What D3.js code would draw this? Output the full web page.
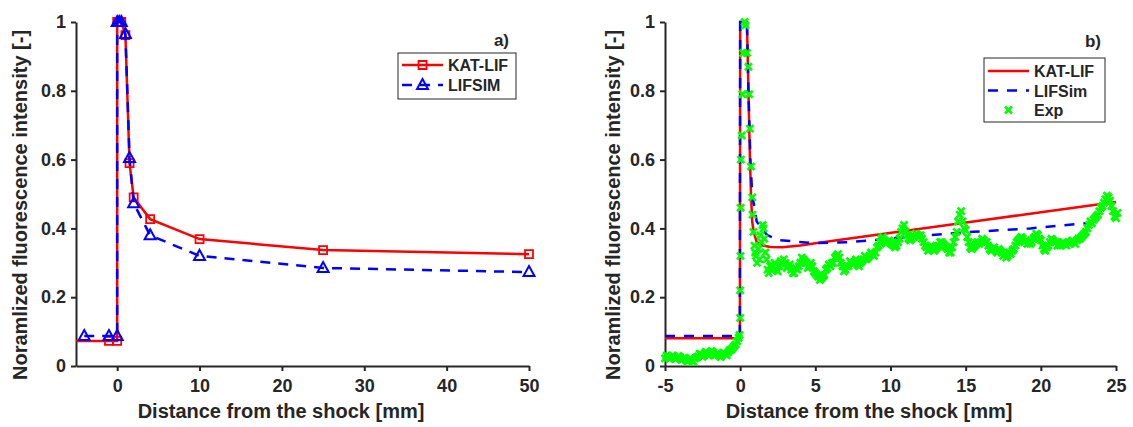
<!DOCTYPE html>
<html>
<head>
<meta charset="utf-8">
<script src="https://cdn.jsdelivr.net/npm/d3@7"></script>
<style>
  body { margin: 0; background: #fff; }
  text { font-family: "Liberation Sans", Arial, sans-serif; font-weight: bold; fill: #262626; }
</style>
</head>
<body>
<svg id="chart" width="1133" height="427"></svg>
<script>
// Two panels: a) model comparison, b) models vs. experiment

const Y_TICKS  = [0, 0.2, 0.4, 0.6, 0.8, 1];
const Y_LABELS = ['0', '0.2', '0.4', '0.6', '0.8', '1'];
const A_X_TICKS = [0, 10, 20, 30, 40, 50];
const B_X_TICKS = [-5, 0, 5, 10, 15, 20, 25];

// panel a)
const katA_x = [-6, -1, 0, 0, 0.5, 1, 1.5, 2, 4, 10, 25, 50];
const katA_y = [0.073, 0.073, 0.073, 1.0, 1.0, 0.962, 0.59, 0.49, 0.427, 0.369, 0.337, 0.325];
const simA_x = [-4, -1, 0, 0, 0.25, 0.5, 1, 1.5, 2, 4, 10, 25, 50];
const simA_y = [0.087, 0.087, 0.087, 1.0, 1.0, 1.0, 0.965, 0.605, 0.473, 0.38, 0.32, 0.285, 0.273];

// panel b)
const katB_x = [-5, -0.02, 0, 0.45, 0.55, 0.65, 0.72, 0.8, 0.9, 1.1, 1.5, 2, 2.8, 4, 5, 8, 12, 16, 20, 25];
const katB_y = [0.081, 0.081, 1.0, 1.0, 0.8, 0.6, 0.5, 0.42, 0.39, 0.36, 0.35, 0.346, 0.345, 0.35, 0.357, 0.375, 0.399, 0.423, 0.447, 0.477];
const simB_x = [-5, -0.02, 0, 0.45, 0.55, 0.68, 0.8, 1.1, 1.8, 2.6, 4.9, 7.3, 12.4, 15.5, 19.3, 23.5];
const simB_y = [0.087, 0.087, 1.0, 1.0, 0.8, 0.6, 0.5, 0.42, 0.38, 0.366, 0.357, 0.36, 0.38, 0.39, 0.40, 0.417];

const expB_x = [
  -5.0, -4.9, -4.8, -4.7, -4.6, -4.5, -4.4, -4.3, -4.2, -4.1, -4.0, -3.9, -3.8, -3.7, -3.6, -3.5, -3.4, -3.3, -3.2, -3.1,
  -3.0, -2.9, -2.8, -2.7, -2.6, -2.5, -2.4, -2.3, -2.2, -2.1, -2.0, -1.9, -1.8, -1.7, -1.6, -1.5, -1.4, -1.3, -1.2, -1.1,
  -1.0, -0.9, -0.8, -0.7, -0.6, -0.5, -0.4, -0.3, -0.2, -0.1,
  -0.05, 0.0, 0.0, 0.02, 0.03, 0.05, 0.1, 0.15, 0.2, 0.3, 0.35, 0.45, 0.55, 0.6, 0.65, 0.72, 0.8, 0.82, 0.88, 0.95,
  1.0, 1.05, 1.12, 1.2, 1.28, 1.35, 1.42, 1.5, 1.55, 1.6, 1.68, 1.75, 1.82, 1.9, 2.0,
  2.1, 2.2, 2.3, 2.4, 2.5, 2.6, 2.7, 2.8, 2.9, 3.0, 3.1, 3.2, 3.3, 3.4, 3.5, 3.6, 3.7, 3.8, 3.9, 4.0,
  4.1, 4.2, 4.3, 4.4, 4.5, 4.6, 4.7, 4.8, 4.9, 5.0, 5.1, 5.2, 5.3, 5.4, 5.5, 5.6, 5.7, 5.8, 5.9, 6.0,
  6.1, 6.2, 6.3, 6.4, 6.5, 6.6, 6.7, 6.8, 6.9, 7.0, 7.1, 7.2, 7.3, 7.4, 7.5, 7.6, 7.7, 7.8, 7.9, 8.0,
  8.1, 8.2, 8.3, 8.4, 8.5, 8.6, 8.7, 8.8, 8.9, 9.0, 9.1, 9.2, 9.3, 9.4, 9.5, 9.6, 9.7, 9.8, 9.9, 10.0,
  10.1, 10.2, 10.3, 10.4, 10.5, 10.6, 10.7, 10.8, 10.9, 11.0, 11.1, 11.2, 11.3, 11.4, 11.5, 11.6, 11.7, 11.8, 11.9, 12.0,
  12.1, 12.2, 12.3, 12.4, 12.5, 12.6, 12.7, 12.8, 12.9, 13.0, 13.1, 13.2, 13.3, 13.4, 13.5, 13.6, 13.7, 13.8, 13.9, 14.0,
  14.1, 14.2, 14.3, 14.4, 14.5, 14.6, 14.7, 14.8, 14.9, 15.0, 15.1, 15.2, 15.3, 15.4, 15.5, 15.6, 15.7, 15.8, 15.9, 16.0,
  16.1, 16.2, 16.3, 16.4, 16.5, 16.6, 16.7, 16.8, 16.9, 17.0, 17.1, 17.2, 17.3, 17.4, 17.5, 17.6, 17.7, 17.8, 17.9, 18.0,
  18.1, 18.2, 18.3, 18.4, 18.5, 18.6, 18.7, 18.8, 18.9, 19.0, 19.1, 19.2, 19.3, 19.4, 19.5, 19.6, 19.7, 19.8, 19.9, 20.0,
  20.1, 20.2, 20.3, 20.4, 20.5, 20.6, 20.7, 20.8, 20.9, 21.0, 21.1, 21.2, 21.3, 21.4, 21.5, 21.6, 21.7, 21.8, 21.9, 22.0,
  22.1, 22.2, 22.3, 22.4, 22.5, 22.6, 22.7, 22.8, 22.9, 23.0, 23.1, 23.2, 23.3, 23.4, 23.5, 23.6, 23.7, 23.8, 23.9, 24.0,
  24.1, 24.2, 24.3, 24.4, 24.5, 24.6, 24.7, 24.8, 24.9, 25.0, 25.1
];
const expB_y = [
  0.022, 0.030, 0.028, 0.021, 0.025, 0.031, 0.027, 0.020, 0.024, 0.029, 0.026, 0.018, 0.021, 0.024, 0.017, 0.013, 0.019, 0.022, 0.015, 0.012,
  0.022, 0.025, 0.028, 0.036, 0.034, 0.027, 0.031, 0.041, 0.038, 0.030, 0.036, 0.044, 0.040, 0.031, 0.033, 0.038, 0.030, 0.026, 0.032, 0.039,
  0.035, 0.031, 0.040, 0.046, 0.047, 0.052, 0.058, 0.063, 0.072, 0.082,
  0.09, 0.14, 0.22, 0.32, 0.46, 0.60, 0.67, 0.79, 0.91, 1.0, 0.99, 0.91, 0.87, 0.79, 0.69, 0.58, 0.49, 0.44, 0.39, 0.35,
  0.33, 0.32, 0.30, 0.34, 0.31, 0.38, 0.36, 0.41, 0.40, 0.37, 0.33, 0.31, 0.28, 0.27, 0.29,
  0.28, 0.29, 0.30, 0.28, 0.275, 0.29, 0.305, 0.30, 0.31, 0.30, 0.285, 0.29, 0.295, 0.28, 0.27, 0.27, 0.285, 0.28, 0.29, 0.30,
  0.315, 0.31, 0.305, 0.30, 0.285, 0.29, 0.30, 0.29, 0.275, 0.27, 0.265, 0.26, 0.25, 0.255, 0.26, 0.265, 0.28, 0.285, 0.295, 0.29,
  0.30, 0.30, 0.315, 0.32, 0.325, 0.315, 0.30, 0.29, 0.275, 0.28, 0.29, 0.29, 0.305, 0.30, 0.295, 0.30, 0.31, 0.295, 0.29, 0.30,
  0.305, 0.31, 0.32, 0.31, 0.315, 0.32, 0.33, 0.325, 0.32, 0.33, 0.345, 0.35, 0.36, 0.37, 0.375, 0.365, 0.355, 0.36, 0.365, 0.36,
  0.355, 0.35, 0.345, 0.35, 0.36, 0.37, 0.39, 0.40, 0.41, 0.39, 0.38, 0.37, 0.365, 0.37, 0.38, 0.375, 0.385, 0.38, 0.375, 0.38,
  0.37, 0.36, 0.35, 0.345, 0.335, 0.34, 0.35, 0.345, 0.335, 0.34, 0.345, 0.35, 0.36, 0.36, 0.355, 0.35, 0.345, 0.34, 0.33, 0.33,
  0.345, 0.36, 0.375, 0.39, 0.42, 0.44, 0.45, 0.42, 0.40, 0.395, 0.375, 0.36, 0.345, 0.34, 0.345, 0.35, 0.355, 0.36, 0.355, 0.36,
  0.37, 0.365, 0.36, 0.36, 0.35, 0.34, 0.335, 0.34, 0.345, 0.335, 0.33, 0.34, 0.335, 0.33, 0.32, 0.325, 0.315, 0.32, 0.33, 0.325,
  0.335, 0.34, 0.35, 0.36, 0.365, 0.37, 0.375, 0.37, 0.36, 0.365, 0.355, 0.36, 0.355, 0.36, 0.37, 0.375, 0.385, 0.38, 0.37, 0.365,
  0.35, 0.34, 0.335, 0.345, 0.35, 0.36, 0.37, 0.365, 0.36, 0.36, 0.35, 0.355, 0.35, 0.355, 0.36, 0.355, 0.35, 0.36, 0.355, 0.36,
  0.365, 0.36, 0.355, 0.365, 0.37, 0.37, 0.375, 0.38, 0.385, 0.39, 0.40, 0.41, 0.42, 0.415, 0.425, 0.43, 0.435, 0.44, 0.45, 0.46,
  0.465, 0.475, 0.485, 0.495, 0.49, 0.48, 0.465, 0.45, 0.435, 0.43, 0.445
];

const AXIS = '#262626';
const RED = '#ff0000', BLUE = '#0000ff', GREEN = '#00ff00';
const TOP = 22, BOTTOM = 366;

const svg = d3.select('#chart');

const SQUARE   = 'M-4,-4H4V4H-4Z';
const TRIANGLE = 'M0,-6L5.5,4H-5.5Z';
const CROSS    = 'M-3.5,-3.5L3.5,3.5M-3.5,3.5L3.5,-3.5';

const drawPanel = cfg => {
    const x = d3.scaleLinear().domain(cfg.xDomain).range(cfg.xRange);
    const y = d3.scaleLinear().domain([0, 1]).range([BOTTOM, TOP]);
    const g = svg.append('g');

    svg.append('clipPath').attr('id', cfg.id)
      .append('rect')
        .attr('x', cfg.xRange[0]).attr('y', 0)
        .attr('width', cfg.xRange[1] - cfg.xRange[0] + 6).attr('height', BOTTOM);

    // plain hyphen for negative ticks, as in the original
    const xAxis = d3.axisBottom(x).tickValues(cfg.xTicks).tickSize(5)
                    .tickSizeOuter(0).tickPadding(8).tickFormat(d => String(d));
    const yAxis = d3.axisLeft(y).tickValues(Y_TICKS).tickSize(5)
                    .tickSizeOuter(0).tickPadding(5).tickFormat((d, i) => Y_LABELS[i]);

    const gx = g.append('g').attr('transform', `translate(0,${BOTTOM})`).call(xAxis);
    const gy = g.append('g').attr('transform', `translate(${cfg.xRange[0]},0)`).call(yAxis);
    [gx, gy].forEach(a => {
        a.attr('font-family', null).attr('font-size', null);
        a.select('.domain').attr('stroke', AXIS).attr('stroke-width', 2);
        a.selectAll('.tick line').attr('stroke', AXIS).attr('stroke-width', 2);
        a.selectAll('.tick text').attr('fill', AXIS).style('font-size', '18px');
    });

    const line = d3.line().x(d => x(d[0])).y(d => y(d[1]));
    const plot = g.append('g');
    cfg.series.forEach(s => {
        const pts = d3.zip(s.x, s.y);
        if (s.line) {
            plot.append('path').datum(pts)
                .attr('clip-path', `url(#${cfg.id})`)
                .attr('d', line).attr('fill', 'none')
                .attr('stroke', s.color).attr('stroke-width', 2.5)
                .attr('stroke-dasharray', s.dash || null);
        }
        if (s.marker) {
            plot.selectAll(null).data(pts.filter(d => d[0] >= cfg.xDomain[0]))
              .enter().append('path')
                .attr('transform', d => `translate(${x(d[0])},${y(d[1])})`)
                .attr('d', s.marker).attr('fill', 'none')
                .attr('stroke', s.color).attr('stroke-width', s.mw || 1.8);
        }
    });

    // axis titles
    g.append('text')
        .attr('x', cfg.xLabelX).attr('y', 418)
        .attr('text-anchor', 'middle').style('font-size', '20px')
        .text('Distance from the shock [mm]');
    g.append('text')
        .attr('transform', `translate(${cfg.yLabelX},205) rotate(-90)`)
        .attr('text-anchor', 'middle').style('font-size', '20px')
        .text('Noramlized fluorescence intensity [-]');

    g.append('text').attr('x', cfg.tag[0]).attr('y', cfg.tag[1])
        .attr('text-anchor', 'end').style('font-size', '17px').text(cfg.tagText);

    // legend
    const L = cfg.legend;
    const lg = g.append('g');
    lg.append('rect').attr('x', L.x).attr('y', L.y).attr('width', L.w).attr('height', L.h)
        .attr('fill', '#fff').attr('stroke', AXIS).attr('stroke-width', 1);
    cfg.series.forEach((s, i) => {
        const cy = L.y + L.first + i * L.step;
        const x0 = L.x + 4, x1 = L.x + L.sample;
        if (s.line) {
            lg.append('line').attr('x1', x0).attr('x2', x1).attr('y1', cy).attr('y2', cy)
                .attr('stroke', s.color).attr('stroke-width', 2.5)
                .attr('stroke-dasharray', s.dash || null);
        }
        if (s.marker) {
            lg.append('path').attr('transform', `translate(${(x0 + x1) / 2},${cy})`)
                .attr('d', s.marker).attr('fill', 'none')
                .attr('stroke', s.color).attr('stroke-width', s.mw || 1.8);
        }
        lg.append('text').attr('x', L.x + L.sample + 5).attr('y', cy + 6)
            .style('font-size', '16px').text(s.name);
    });
};

drawPanel({
    id: 'clipA', xDomain: [-5, 50], xRange: [76, 529], xTicks: A_X_TICKS,
    xLabelX: 281, yLabelX: 27, tag: [509, 46], tagText: 'a)',
    legend: { x: 398, y: 53, w: 118, h: 46, first: 12, step: 20, sample: 45 },
    series: [
        { name: 'KAT-LIF', x: katA_x, y: katA_y, color: RED, line: true, marker: SQUARE },
        { name: 'LIFSIM', x: simA_x, y: simA_y, color: BLUE, line: true, dash: '10,8', marker: TRIANGLE, mw: 2 }
    ]
});

drawPanel({
    id: 'clipB', xDomain: [-5, 25], xRange: [665, 1116], xTicks: B_X_TICKS,
    xLabelX: 869, yLabelX: 620, tag: [1101, 47], tagText: 'b)',
    legend: { x: 984, y: 58, w: 121, h: 64, first: 13, step: 19.5, sample: 45 },
    series: [
        { name: 'KAT-LIF', x: katB_x, y: katB_y, color: RED, line: true },
        { name: 'LIFSim', x: simB_x, y: simB_y, color: BLUE, line: true, dash: '10,9' },
        { name: 'Exp', x: expB_x, y: expB_y, color: GREEN, marker: CROSS, mw: 2.6 }
    ]
});
</script>
</body>
</html>
